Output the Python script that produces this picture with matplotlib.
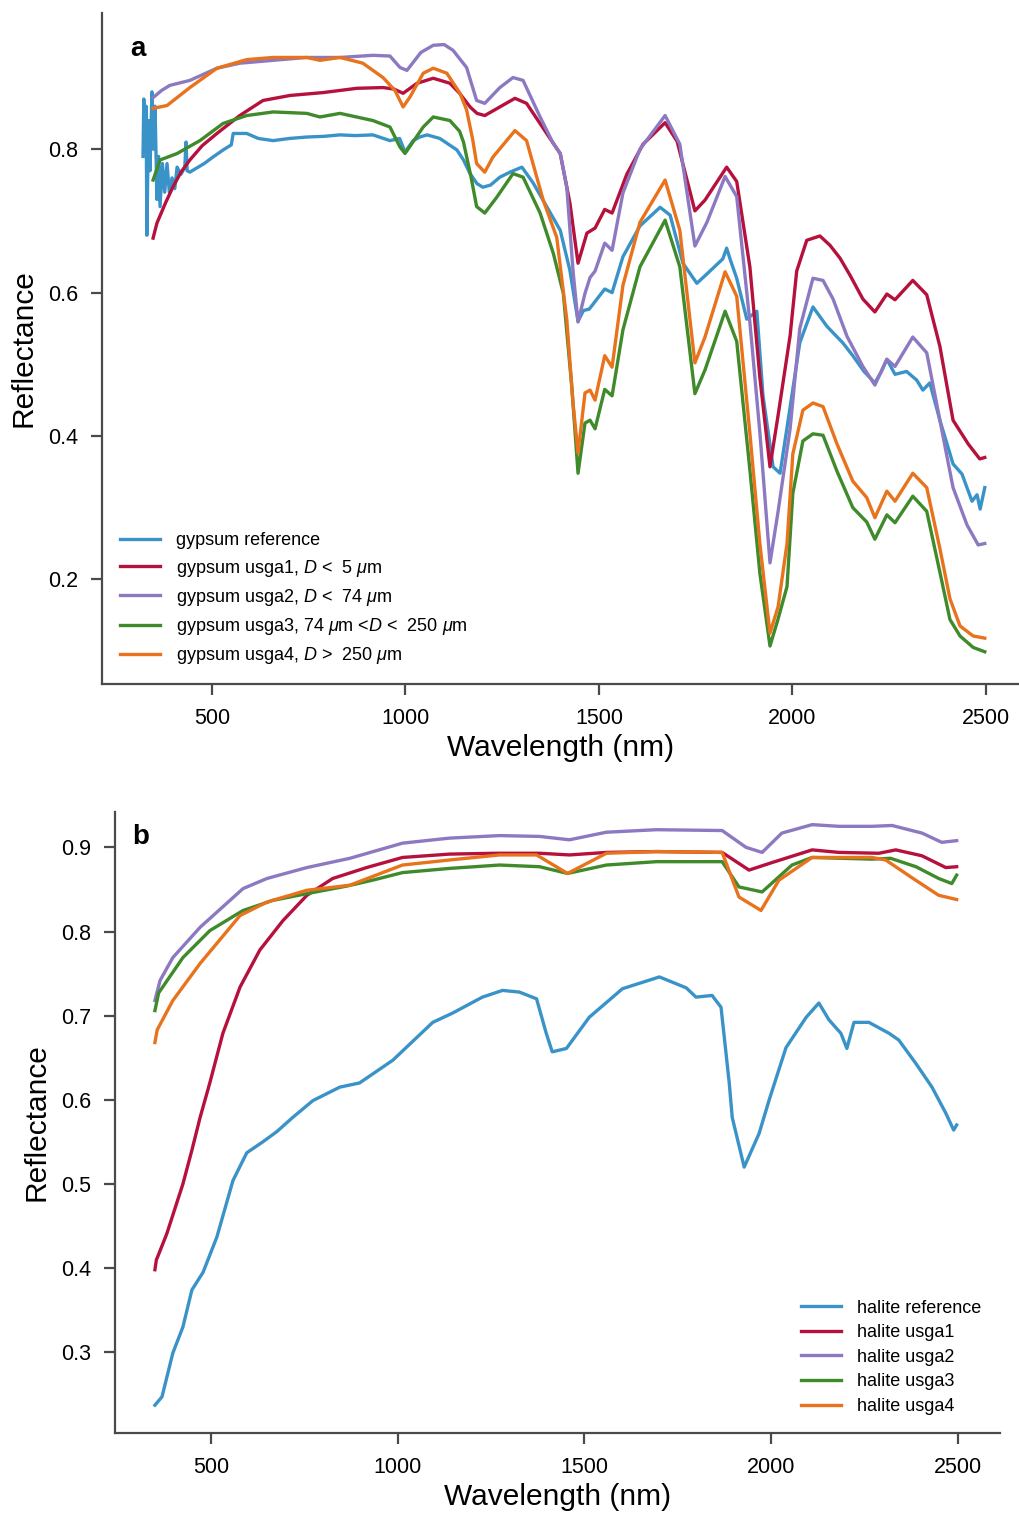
import numpy as np
import matplotlib
matplotlib.use('Agg')
import matplotlib.pyplot as plt

plt.rcParams['font.family'] = ['Liberation Sans', 'DejaVu Sans']
plt.rcParams['mathtext.fontset'] = 'custom'
plt.rcParams['mathtext.rm'] = 'Liberation Sans'
plt.rcParams['mathtext.it'] = 'Liberation Sans:italic'

# ---------------- panel a: gypsum ----------------
gyp_ref_wl = [322, 324, 327, 330, 332, 336, 340, 345, 349, 353, 358, 362, 366, 372, 378, 384, 390, 397,
              404, 410, 420, 430, 433, 436, 443, 452, 480, 500, 529, 550, 555, 590, 620, 658, 700, 745,
              790, 831, 870, 916, 960, 985, 999, 1020, 1037, 1056, 1089, 1133, 1150, 1167, 1185, 1200,
              1220, 1244, 1270, 1301, 1330, 1365, 1400, 1425, 1446, 1460, 1475, 1515, 1534, 1562, 1606,
              1658, 1684, 1717, 1753, 1779, 1820, 1830, 1840, 1856, 1882, 1908, 1924, 1950, 1968, 1994,
              2019, 2053, 2089, 2130, 2156, 2185, 2213, 2230, 2244, 2265, 2295, 2321, 2337, 2355, 2381,
              2415, 2438, 2464, 2477, 2485, 2497]
gyp_ref = [0.79, 0.87, 0.80, 0.86, 0.68, 0.84, 0.77, 0.88, 0.80, 0.86, 0.73, 0.79, 0.72, 0.78, 0.74, 0.78,
           0.74, 0.76, 0.745, 0.775, 0.765, 0.775, 0.81, 0.77, 0.768, 0.771, 0.78, 0.788, 0.799, 0.806,
           0.822, 0.822, 0.815, 0.812, 0.815, 0.817, 0.818, 0.82, 0.819, 0.82, 0.812, 0.815, 0.796, 0.812,
           0.817, 0.82, 0.815, 0.799, 0.785, 0.766, 0.752, 0.747, 0.75, 0.761, 0.768, 0.775, 0.753, 0.72,
           0.687, 0.631, 0.56, 0.575, 0.577, 0.605, 0.60, 0.65, 0.693, 0.719, 0.708, 0.641, 0.613, 0.626,
           0.647, 0.662, 0.645, 0.62, 0.563, 0.574, 0.456, 0.357, 0.348, 0.44, 0.53, 0.58, 0.553, 0.53,
           0.512, 0.49, 0.474, 0.49, 0.507, 0.486, 0.49, 0.478, 0.464, 0.474, 0.422, 0.361, 0.347, 0.309,
           0.318, 0.298, 0.328]

gyp_u1_wl = [348, 358, 380, 399, 420, 443, 475, 513, 572, 632, 702, 787, 875, 942, 970, 994, 1030, 1072,
             1115, 1140, 1167, 1185, 1205, 1244, 1283, 1313, 1365, 1400, 1425, 1446, 1469, 1490, 1515,
             1534, 1572, 1614, 1671, 1702, 1748, 1774, 1830, 1856, 1890, 1916, 1942, 1963, 1994, 2011,
             2037, 2071, 2097, 2123, 2149, 2182, 2213, 2244, 2265, 2311, 2347, 2381, 2415, 2454, 2484, 2497]
gyp_u1 = [0.676, 0.697, 0.725, 0.747, 0.768, 0.785, 0.805, 0.822, 0.847, 0.868, 0.875, 0.879, 0.885, 0.886,
          0.884, 0.878, 0.892, 0.899, 0.892, 0.878, 0.859, 0.85, 0.847, 0.859, 0.871, 0.864, 0.822, 0.794,
          0.725, 0.641, 0.683, 0.69, 0.716, 0.711, 0.765, 0.807, 0.837, 0.811, 0.714, 0.729, 0.775, 0.755,
          0.636, 0.481, 0.357, 0.429, 0.54, 0.63, 0.673, 0.679, 0.666, 0.648, 0.624, 0.591, 0.573, 0.598,
          0.59, 0.617, 0.597, 0.525, 0.422, 0.389, 0.368, 0.37]

gyp_u2_wl = [348, 370, 391, 443, 513, 572, 658, 745, 831, 916, 960, 986, 1004, 1040, 1072, 1100, 1123, 1158,
             1184, 1205, 1244, 1278, 1304, 1348, 1382, 1400, 1417, 1433, 1446, 1464, 1477, 1490, 1515, 1534,
             1562, 1606, 1671, 1709, 1748, 1779, 1826, 1856, 1890, 1916, 1942, 1963, 1994, 2019, 2053, 2079,
             2105, 2141, 2182, 2213, 2244, 2265, 2311, 2347, 2381, 2415, 2451, 2480, 2497]
gyp_u2 = [0.872, 0.882, 0.889, 0.896, 0.913, 0.92, 0.924, 0.928, 0.928, 0.931, 0.93, 0.914, 0.91, 0.935,
          0.945, 0.946, 0.938, 0.914, 0.868, 0.864, 0.886, 0.90, 0.896, 0.845, 0.808, 0.794, 0.747, 0.631,
          0.559, 0.599, 0.621, 0.63, 0.669, 0.659, 0.739, 0.80, 0.847, 0.807, 0.665, 0.698, 0.762, 0.734,
          0.559, 0.404, 0.223, 0.295, 0.41, 0.55, 0.62, 0.617, 0.591, 0.539, 0.497, 0.471, 0.507, 0.497,
          0.538, 0.516, 0.422, 0.328, 0.276, 0.248, 0.25]

gyp_u3_wl = [348, 366, 410, 469, 529, 590, 658, 745, 779, 831, 916, 960, 986, 999, 1046, 1072, 1115, 1140,
             1150, 1170, 1184, 1205, 1236, 1278, 1304, 1348, 1382, 1408, 1430, 1446, 1464, 1477, 1490, 1515,
             1534, 1562, 1606, 1671, 1709, 1748, 1774, 1826, 1856, 1890, 1916, 1942, 1963, 1986, 2001, 2027,
             2053, 2079, 2115, 2156, 2192, 2213, 2244, 2265, 2311, 2347, 2381, 2407, 2433, 2467, 2497]
gyp_u3 = [0.757, 0.785, 0.794, 0.812, 0.836, 0.847, 0.852, 0.85, 0.845, 0.85, 0.84, 0.831, 0.803, 0.794,
          0.831, 0.845, 0.84, 0.825, 0.81, 0.76, 0.72, 0.711, 0.733, 0.766, 0.761, 0.711, 0.655, 0.599,
          0.468, 0.348, 0.418, 0.422, 0.41, 0.465, 0.456, 0.548, 0.636, 0.701, 0.636, 0.459, 0.492, 0.574,
          0.532, 0.353, 0.208, 0.107, 0.145, 0.19, 0.32, 0.393, 0.403, 0.401, 0.351, 0.30, 0.28, 0.256,
          0.29, 0.279, 0.316, 0.295, 0.21, 0.144, 0.121, 0.105, 0.099]

gyp_u4_wl = [348, 384, 443, 513, 590, 658, 745, 779, 831, 890, 942, 973, 994, 1012, 1046, 1072, 1107, 1141,
             1158, 1174, 1184, 1205, 1226, 1283, 1313, 1356, 1391, 1417, 1433, 1446, 1464, 1477, 1490, 1515,
             1534, 1562, 1606, 1671, 1709, 1748, 1774, 1826, 1856, 1890, 1916, 1942, 1963, 1986, 2001, 2027,
             2053, 2079, 2115, 2156, 2192, 2213, 2244, 2265, 2311, 2347, 2381, 2407, 2433, 2467, 2497]
gyp_u4 = [0.857, 0.861, 0.886, 0.913, 0.925, 0.928, 0.928, 0.924, 0.928, 0.92, 0.90, 0.882, 0.859, 0.873,
          0.906, 0.913, 0.906, 0.878, 0.855, 0.813, 0.78, 0.768, 0.789, 0.826, 0.812, 0.729, 0.677, 0.562,
          0.446, 0.376, 0.46, 0.464, 0.45, 0.512, 0.496, 0.61, 0.698, 0.757, 0.687, 0.502, 0.538, 0.629,
          0.595, 0.404, 0.249, 0.125, 0.162, 0.25, 0.375, 0.436, 0.446, 0.441, 0.389, 0.337, 0.314, 0.286,
          0.323, 0.309, 0.348, 0.328, 0.243, 0.173, 0.135, 0.121, 0.118]

gyp_labels = ['gypsum reference',
              r'gypsum usga1, $D$ <  5 $\mu$m',
              r'gypsum usga2, $D$ <  74 $\mu$m',
              r'gypsum usga3, 74 $\mu$m <$D$ <  250 $\mu$m',
              r'gypsum usga4, $D$ >  250 $\mu$m']

# ---------------- panel b: halite ----------------
hal_ref_wl = [350, 369, 398, 425, 449, 479, 516, 559, 596, 639, 676, 719, 773, 845, 898, 987, 1094, 1147,
              1227, 1281, 1326, 1372, 1398, 1414, 1452, 1513, 1602, 1701, 1773, 1799, 1842, 1866, 1888,
              1896, 1928, 1968, 1995, 2040, 2094, 2128, 2155, 2187, 2203, 2222, 2262, 2316, 2342, 2388,
              2431, 2468, 2489, 2497]
hal_ref = [0.237, 0.247, 0.299, 0.33, 0.374, 0.395, 0.437, 0.504, 0.537, 0.55, 0.562, 0.579, 0.599, 0.615,
           0.62, 0.647, 0.692, 0.703, 0.722, 0.73, 0.728, 0.72, 0.679, 0.657, 0.661, 0.698, 0.732, 0.746,
           0.733, 0.722, 0.724, 0.71, 0.62, 0.579, 0.52, 0.56, 0.60, 0.662, 0.698, 0.715, 0.695, 0.679,
           0.661, 0.692, 0.692, 0.679, 0.671, 0.643, 0.615, 0.584, 0.564, 0.57]

hal_u1_wl = [350, 354, 357, 382, 425, 449, 471, 497, 532, 578, 631, 693, 757, 826, 917, 1013, 1139, 1265,
             1380, 1460, 1559, 1693, 1869, 1941, 2003, 2110, 2182, 2289, 2334, 2404, 2468, 2497]
hal_u1 = [0.398, 0.41, 0.413, 0.441, 0.50, 0.54, 0.579, 0.62, 0.679, 0.734, 0.778, 0.813, 0.843, 0.863,
          0.876, 0.888, 0.892, 0.893, 0.893, 0.891, 0.894, 0.895, 0.894, 0.873, 0.882, 0.897, 0.894, 0.893,
          0.897, 0.89, 0.876, 0.877]

hal_u2_wl = [350, 364, 398, 471, 586, 650, 757, 872, 1013, 1139, 1273, 1380, 1460, 1559, 1693, 1869, 1933,
             1976, 2029, 2110, 2182, 2270, 2324, 2404, 2457, 2497]
hal_u2 = [0.718, 0.742, 0.769, 0.805, 0.851, 0.863, 0.876, 0.887, 0.905, 0.911, 0.914, 0.913, 0.909, 0.918,
          0.921, 0.92, 0.90, 0.894, 0.917, 0.927, 0.925, 0.925, 0.926, 0.917, 0.906, 0.908]

hal_u3_wl = [350, 360, 425, 497, 586, 666, 757, 864, 933, 1013, 1139, 1273, 1380, 1455, 1559, 1693, 1869,
             1914, 1976, 2056, 2110, 2270, 2320, 2388, 2449, 2484, 2497]
hal_u3 = [0.706, 0.727, 0.769, 0.801, 0.825, 0.837, 0.845, 0.854, 0.861, 0.87, 0.875, 0.879, 0.877, 0.869,
          0.879, 0.883, 0.883, 0.853, 0.847, 0.879, 0.888, 0.886, 0.887, 0.877, 0.863, 0.857, 0.867]

hal_u4_wl = [350, 356, 398, 471, 578, 650, 757, 872, 1013, 1139, 1273, 1372, 1455, 1559, 1693, 1869, 1914,
             1973, 2021, 2110, 2270, 2307, 2377, 2449, 2497]
hal_u4 = [0.668, 0.683, 0.718, 0.762, 0.819, 0.835, 0.849, 0.855, 0.879, 0.885, 0.891, 0.891, 0.869, 0.893,
          0.895, 0.894, 0.841, 0.825, 0.861, 0.888, 0.888, 0.885, 0.864, 0.843, 0.838]

hal_labels = ['halite reference', 'halite usga1', 'halite usga2', 'halite usga3', 'halite usga4']

colors = ['#3a93c8', '#b5113c', '#8c79c1', '#3f8a2a', '#e8731c']


def style_axes(ax, yticks):
    for side in ['top', 'right']:
        ax.spines[side].set_visible(False)
    for side in ['left', 'bottom']:
        ax.spines[side].set_color('#4a4a4a')
        ax.spines[side].set_linewidth(1.6)
    ax.tick_params(direction='out', length=8, width=1.6, color='#4a4a4a', labelsize=15.5, pad=9)
    ax.set_xticks([500, 1000, 1500, 2000, 2500])
    ax.set_yticks(yticks)
    ax.set_xlabel('Wavelength (nm)', fontsize=21.5, labelpad=4)
    ax.set_ylabel('Reflectance', fontsize=21.5, labelpad=8)


fig = plt.figure(figsize=(10.2, 15.13), dpi=100)

ax_a = fig.add_axes([0.100, 0.5479, 0.900, 0.4435])
gyp_series = [(gyp_ref_wl, gyp_ref), (gyp_u1_wl, gyp_u1), (gyp_u2_wl, gyp_u2),
              (gyp_u3_wl, gyp_u3), (gyp_u4_wl, gyp_u4)]
for (wl, refl), c, lab in zip(gyp_series, colors, gyp_labels):
    ax_a.plot(wl, refl, color=c, lw=2.4, label=lab)
ax_a.set_xlim(216, 2588)
ax_a.set_ylim(0.054, 0.99)
style_axes(ax_a, [0.2, 0.4, 0.6, 0.8])
ax_a.yaxis.set_major_formatter(matplotlib.ticker.FormatStrFormatter('%.1f'))
ax_a.text(0.031, 0.946, 'a', transform=ax_a.transAxes, fontsize=20, fontweight='bold',
          ha='left', va='center')
ax_a.legend(loc='lower left', bbox_to_anchor=(0.0, 0.0), frameon=False, fontsize=13,
            handlelength=2.2, handletextpad=0.9, labelspacing=0.45, borderaxespad=0.6,
            borderpad=0.4)

ax_b = fig.add_axes([0.1127, 0.0529, 0.8673, 0.4104])
hal_series = [(hal_ref_wl, hal_ref), (hal_u1_wl, hal_u1), (hal_u2_wl, hal_u2),
              (hal_u3_wl, hal_u3), (hal_u4_wl, hal_u4)]
for (wl, refl), c, lab in zip(hal_series, colors, hal_labels):
    ax_b.plot(wl, refl, color=c, lw=2.4, label=lab)
ax_b.set_xlim(243, 2612)
ax_b.set_ylim(0.204, 0.942)
style_axes(ax_b, [0.3, 0.4, 0.5, 0.6, 0.7, 0.8, 0.9])
ax_b.text(0.02, 0.96, 'b', transform=ax_b.transAxes, fontsize=20, fontweight='bold',
          ha='left', va='center')
ax_b.legend(loc='lower right', bbox_to_anchor=(1.0, 0.0), frameon=False, fontsize=13,
            handlelength=2.2, handletextpad=0.9, labelspacing=0.42, borderaxespad=0.6)

fig.savefig('out.png', dpi=100)
